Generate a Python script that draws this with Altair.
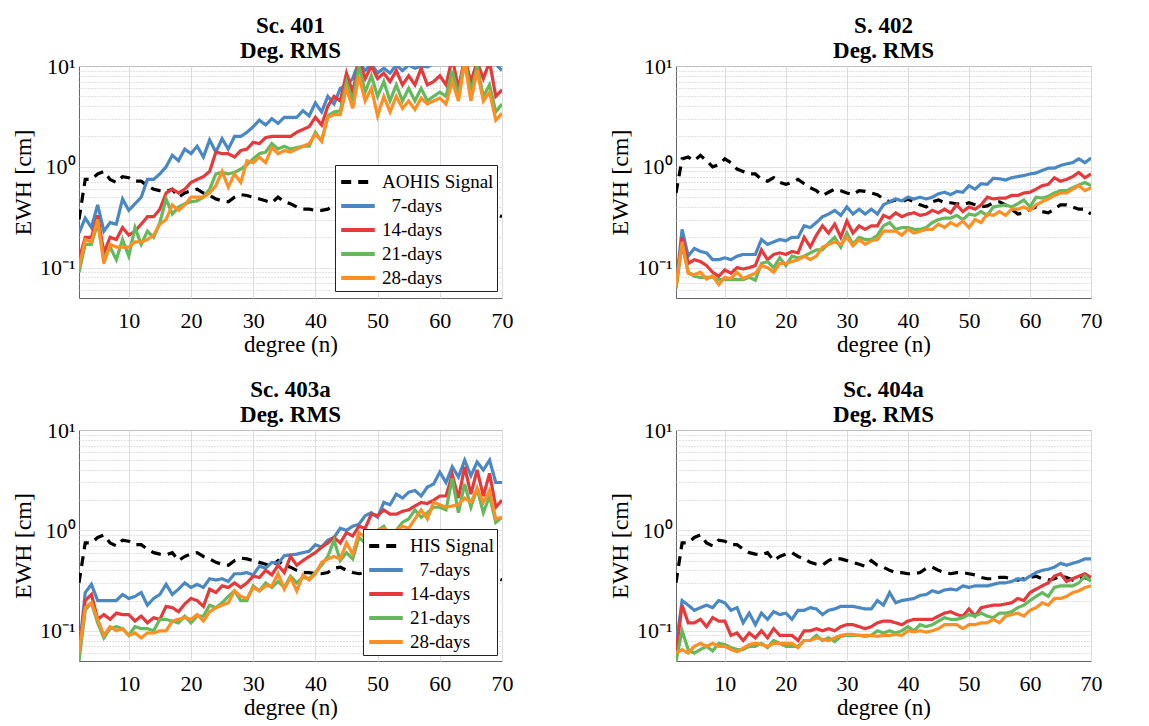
import altair as alt
import pandas as pd

FONT = "Liberation Serif"

degrees = list(range(2, 71))

# Signal (same curve in Sc. 401, 403a, 404a)
signal_his = [
    0.30, 0.75, 0.75, 0.85, 0.90, 0.75, 0.70, 0.80, 0.78, 0.72,
    0.72, 0.65, 0.60, 0.58, 0.57, 0.60, 0.50, 0.55, 0.58, 0.60,
    0.55, 0.52, 0.48, 0.46, 0.45, 0.50, 0.53, 0.52, 0.50, 0.48,
    0.46, 0.44, 0.50, 0.45, 0.43, 0.40, 0.38, 0.38, 0.37, 0.37,
    0.38, 0.42, 0.43, 0.40, 0.38, 0.37, 0.38, 0.38, 0.37, 0.36,
    0.34, 0.33, 0.33, 0.34, 0.34, 0.33, 0.32, 0.33, 0.34, 0.35,
    0.33, 0.32, 0.33, 0.35, 0.34, 0.32, 0.33, 0.34, 0.32]
signal_402 = [
    0.55, 1.20, 1.25, 1.15, 1.30, 1.15, 1.00, 1.05, 1.20, 1.10,
    0.95, 0.90, 0.85, 0.85, 0.75, 0.72, 0.78, 0.70, 0.67, 0.70,
    0.75, 0.68, 0.62, 0.58, 0.52, 0.56, 0.60, 0.58, 0.55, 0.53,
    0.58, 0.57, 0.55, 0.53, 0.48, 0.45, 0.47, 0.45, 0.48, 0.45,
    0.42, 0.40, 0.45, 0.47, 0.44, 0.44, 0.43, 0.42, 0.44, 0.42,
    0.40, 0.41, 0.44, 0.45, 0.42, 0.38, 0.34, 0.35, 0.38, 0.40,
    0.36, 0.35, 0.38, 0.42, 0.42, 0.40, 0.38, 0.38, 0.34]

# Sc. 401
p401_d07 = [
    0.22, 0.31, 0.25, 0.42, 0.23, 0.28, 0.27, 0.48, 0.37, 0.43,
    0.50, 0.75, 0.75, 0.85, 1.00, 1.30, 1.15, 1.50, 1.35, 1.60,
    1.25, 1.85, 1.40, 1.90, 1.50, 2.00, 2.00, 2.20, 2.50, 2.90,
    2.60, 3.00, 2.70, 3.10, 3.10, 3.10, 3.60, 3.20, 4.30, 3.50,
    5.00, 4.20, 6.00, 6.50, 7.50, 11.0, 9.00, 10.5, 8.50, 9.50,
    8.50, 10.2, 9.00, 10.2, 9.50, 10.0, 9.80, 10.5, 11.5, 11.0,
    14.0, 11.5, 14.0, 12.0, 13.0, 11.5, 12.0, 10.5, 9.00]
p401_d14 = [
    0.12, 0.20, 0.20, 0.33, 0.14, 0.20, 0.19, 0.25, 0.21, 0.23,
    0.27, 0.32, 0.32, 0.38, 0.55, 0.60, 0.55, 0.60, 0.70, 0.75,
    0.80, 0.90, 1.40, 1.35, 1.35, 1.25, 1.45, 1.50, 1.75, 1.70,
    1.95, 2.00, 2.00, 2.00, 2.00, 2.20, 2.35, 2.50, 3.10, 2.60,
    4.00, 5.00, 4.50, 8.50, 5.50, 11.0, 7.50, 10.0, 7.50, 8.50,
    7.00, 9.00, 6.50, 8.00, 6.50, 9.50, 6.50, 7.00, 8.00, 6.50,
    12.0, 6.00, 12.0, 7.00, 11.0, 7.50, 11.0, 5.00, 5.80]
p401_d21 = [
    0.09, 0.17, 0.17, 0.28, 0.12, 0.16, 0.12, 0.19, 0.13, 0.25,
    0.17, 0.23, 0.20, 0.28, 0.48, 0.34, 0.40, 0.43, 0.45, 0.46,
    0.50, 0.60, 0.85, 0.88, 0.85, 0.88, 0.95, 1.05, 1.20, 1.35,
    1.40, 1.70, 1.50, 1.60, 1.50, 1.55, 1.60, 1.60, 2.20, 1.80,
    3.20, 3.50, 3.60, 7.00, 4.50, 10.0, 5.50, 8.00, 5.00, 7.00,
    4.50, 6.50, 4.50, 6.00, 4.50, 6.00, 4.50, 5.00, 5.50, 5.00,
    9.00, 5.00, 12.0, 5.50, 10.0, 5.00, 6.50, 3.50, 4.20]
p401_d28 = [
    0.10, 0.19, 0.18, 0.30, 0.11, 0.17, 0.16, 0.16, 0.16, 0.18,
    0.18, 0.19, 0.21, 0.27, 0.30, 0.42, 0.37, 0.42, 0.50, 0.50,
    0.50, 0.55, 0.65, 0.90, 0.63, 0.85, 0.70, 1.15, 1.10, 1.25,
    1.10, 1.55, 1.35, 1.45, 1.40, 1.50, 1.60, 1.70, 2.10, 1.80,
    3.10, 3.30, 3.30, 6.00, 3.80, 8.00, 4.50, 6.00, 3.20, 5.00,
    3.50, 5.00, 3.80, 4.50, 3.70, 4.80, 4.20, 4.50, 4.80, 4.20,
    7.00, 4.50, 11.0, 4.50, 9.00, 4.50, 5.50, 2.90, 3.40]

# S. 402
p402_d07 = [
    0.065, 0.24, 0.13, 0.155, 0.145, 0.14, 0.12, 0.12, 0.125, 0.12,
    0.13, 0.135, 0.135, 0.135, 0.19, 0.17, 0.18, 0.19, 0.185, 0.20,
    0.20, 0.26, 0.25, 0.28, 0.32, 0.34, 0.37, 0.33, 0.40, 0.34,
    0.38, 0.34, 0.38, 0.34, 0.42, 0.45, 0.48, 0.46, 0.50, 0.48,
    0.50, 0.48, 0.50, 0.54, 0.56, 0.53, 0.57, 0.56, 0.65, 0.60,
    0.68, 0.67, 0.77, 0.76, 0.74, 0.78, 0.80, 0.82, 0.85, 0.87,
    0.92, 0.97, 0.97, 1.03, 1.07, 1.10, 1.20, 1.10, 1.22]
p402_d14 = [
    0.065, 0.20, 0.11, 0.12, 0.115, 0.105, 0.09, 0.082, 0.095, 0.088,
    0.10, 0.097, 0.10, 0.105, 0.15, 0.12, 0.135, 0.14, 0.135, 0.145,
    0.14, 0.20, 0.16, 0.21, 0.26, 0.22, 0.27, 0.20, 0.29, 0.22,
    0.26, 0.24, 0.26, 0.26, 0.33, 0.31, 0.35, 0.32, 0.34, 0.35,
    0.33, 0.34, 0.37, 0.35, 0.38, 0.35, 0.42, 0.36, 0.40, 0.38,
    0.42, 0.50, 0.48, 0.49, 0.49, 0.52, 0.52, 0.55, 0.56, 0.60,
    0.65, 0.67, 0.78, 0.72, 0.75, 0.80, 0.88, 0.78, 0.85]
p402_d21 = [
    0.062, 0.17, 0.09, 0.082, 0.08, 0.08, 0.08, 0.076, 0.076, 0.076,
    0.076, 0.076, 0.08, 0.075, 0.11, 0.115, 0.10, 0.125, 0.105, 0.13,
    0.125, 0.13, 0.14, 0.15, 0.15, 0.175, 0.20, 0.16, 0.22, 0.17,
    0.20, 0.19, 0.19, 0.21, 0.26, 0.28, 0.24, 0.25, 0.25, 0.24,
    0.24, 0.25, 0.28, 0.30, 0.31, 0.31, 0.33, 0.30, 0.34, 0.33,
    0.36, 0.33, 0.40, 0.41, 0.42, 0.40, 0.43, 0.47, 0.40, 0.50,
    0.49, 0.51, 0.55, 0.58, 0.58, 0.62, 0.66, 0.70, 0.65]
p402_d28 = [
    0.065, 0.18, 0.088, 0.085, 0.09, 0.077, 0.083, 0.068, 0.08, 0.078,
    0.09, 0.078, 0.083, 0.088, 0.105, 0.10, 0.09, 0.11, 0.11, 0.115,
    0.12, 0.13, 0.12, 0.13, 0.16, 0.17, 0.18, 0.17, 0.20, 0.165,
    0.19, 0.17, 0.185, 0.19, 0.23, 0.23, 0.23, 0.21, 0.24, 0.22,
    0.23, 0.24, 0.24, 0.27, 0.25, 0.28, 0.26, 0.29, 0.25, 0.30,
    0.28, 0.34, 0.33, 0.36, 0.33, 0.38, 0.38, 0.40, 0.37, 0.42,
    0.45, 0.48, 0.52, 0.55, 0.55, 0.60, 0.65, 0.58, 0.62]

# Sc. 403a
p403_d07 = [
    0.06, 0.24, 0.29, 0.20, 0.20, 0.20, 0.20, 0.23, 0.21, 0.22,
    0.24, 0.18, 0.21, 0.23, 0.29, 0.23, 0.26, 0.30, 0.27, 0.29,
    0.27, 0.33, 0.32, 0.33, 0.31, 0.37, 0.37, 0.38, 0.36, 0.44,
    0.42, 0.48, 0.47, 0.56, 0.57, 0.58, 0.60, 0.62, 0.72, 0.68,
    0.80, 0.85, 1.05, 1.00, 1.10, 1.15, 1.40, 1.50, 1.35, 1.90,
    1.80, 2.30, 2.10, 2.40, 2.50, 2.20, 2.70, 2.90, 3.80, 3.00,
    4.30, 3.40, 5.00, 3.50, 4.80, 4.00, 5.00, 3.00, 3.00]
p403_d14 = [
    0.06, 0.20, 0.23, 0.13, 0.145, 0.13, 0.15, 0.145, 0.145, 0.125,
    0.14, 0.12, 0.135, 0.13, 0.175, 0.17, 0.155, 0.185, 0.21, 0.20,
    0.175, 0.26, 0.24, 0.28, 0.27, 0.30, 0.27, 0.30, 0.35, 0.34,
    0.40, 0.36, 0.45, 0.38, 0.55, 0.45, 0.50, 0.55, 0.60, 0.68,
    0.75, 0.85, 0.75, 0.95, 0.88, 1.10, 1.05, 1.45, 1.40, 1.60,
    1.45, 1.45, 1.55, 1.60, 1.75, 1.90, 1.85, 2.00, 2.20, 2.20,
    3.60, 2.10, 4.30, 2.30, 4.00, 2.20, 3.70, 1.70, 2.00]
p403_d21 = [
    0.05, 0.16, 0.19, 0.12, 0.085, 0.105, 0.11, 0.105, 0.09, 0.11,
    0.105, 0.105, 0.10, 0.13, 0.13, 0.125, 0.12, 0.14, 0.12, 0.14,
    0.14, 0.18, 0.17, 0.19, 0.22, 0.25, 0.20, 0.20, 0.28, 0.25,
    0.30, 0.27, 0.31, 0.27, 0.35, 0.30, 0.34, 0.33, 0.38, 0.45,
    0.55, 0.80, 0.50, 0.60, 0.52, 0.85, 0.75, 0.90, 1.00, 1.10,
    0.85, 1.00, 1.20, 1.30, 1.60, 1.35, 1.50, 1.70, 1.70, 1.60,
    3.30, 1.50, 2.90, 1.70, 2.60, 1.50, 2.20, 1.20, 1.35]
p403_d28 = [
    0.06, 0.17, 0.19, 0.13, 0.09, 0.11, 0.10, 0.105, 0.09, 0.095,
    0.085, 0.095, 0.095, 0.10, 0.10, 0.125, 0.13, 0.135, 0.13, 0.145,
    0.125, 0.155, 0.17, 0.18, 0.19, 0.25, 0.22, 0.21, 0.27, 0.25,
    0.28, 0.28, 0.37, 0.26, 0.34, 0.25, 0.36, 0.32, 0.37, 0.48,
    0.52, 0.55, 0.52, 0.75, 0.58, 0.95, 0.85, 0.90, 1.00, 1.05,
    0.95, 1.00, 1.10, 1.05, 1.30, 1.60, 1.30, 1.90, 1.80, 1.70,
    1.75, 1.80, 2.10, 1.90, 2.60, 1.90, 2.50, 1.30, 1.35]

# Sc. 404a
p404_d07 = [
    0.07, 0.20, 0.18, 0.16, 0.17, 0.18, 0.17, 0.20, 0.19, 0.16,
    0.17, 0.12, 0.15, 0.115, 0.15, 0.13, 0.155, 0.145, 0.15, 0.13,
    0.16, 0.16, 0.17, 0.165, 0.145, 0.16, 0.165, 0.175, 0.175, 0.175,
    0.17, 0.165, 0.165, 0.20, 0.18, 0.24, 0.19, 0.20, 0.205, 0.21,
    0.225, 0.23, 0.25, 0.24, 0.255, 0.26, 0.255, 0.28, 0.27, 0.28,
    0.28, 0.28, 0.29, 0.30, 0.30, 0.31, 0.33, 0.32, 0.35, 0.38,
    0.40, 0.41, 0.43, 0.47, 0.45, 0.47, 0.49, 0.52, 0.52]
p404_d14 = [
    0.06, 0.18, 0.12, 0.12, 0.13, 0.11, 0.135, 0.125, 0.125, 0.09,
    0.095, 0.08, 0.095, 0.085, 0.10, 0.085, 0.105, 0.09, 0.09, 0.09,
    0.08, 0.10, 0.10, 0.105, 0.10, 0.105, 0.10, 0.11, 0.115, 0.115,
    0.11, 0.105, 0.11, 0.12, 0.125, 0.125, 0.12, 0.115, 0.125, 0.13,
    0.13, 0.13, 0.13, 0.14, 0.15, 0.155, 0.145, 0.14, 0.165, 0.14,
    0.17, 0.175, 0.18, 0.18, 0.185, 0.19, 0.21, 0.20, 0.24, 0.26,
    0.28, 0.30, 0.35, 0.37, 0.31, 0.33, 0.35, 0.37, 0.34]
p404_d21 = [
    0.05, 0.10, 0.065, 0.06, 0.065, 0.07, 0.063, 0.075, 0.073, 0.068,
    0.065, 0.065, 0.07, 0.07, 0.075, 0.068, 0.08, 0.075, 0.07, 0.07,
    0.07, 0.08, 0.08, 0.09, 0.08, 0.085, 0.078, 0.088, 0.09, 0.09,
    0.09, 0.088, 0.09, 0.10, 0.095, 0.10, 0.095, 0.10, 0.11, 0.10,
    0.115, 0.11, 0.115, 0.125, 0.135, 0.13, 0.13, 0.135, 0.145, 0.14,
    0.15, 0.14, 0.135, 0.15, 0.15, 0.155, 0.17, 0.18, 0.20, 0.22,
    0.24, 0.22, 0.27, 0.28, 0.28, 0.28, 0.30, 0.35, 0.31]
p404_d28 = [
    0.06, 0.065, 0.06, 0.07, 0.075, 0.07, 0.075, 0.07, 0.07, 0.065,
    0.062, 0.067, 0.073, 0.075, 0.073, 0.07, 0.075, 0.075, 0.075, 0.075,
    0.068, 0.08, 0.08, 0.085, 0.082, 0.08, 0.085, 0.09, 0.092, 0.092,
    0.09, 0.09, 0.09, 0.088, 0.09, 0.09, 0.092, 0.09, 0.10, 0.098,
    0.10, 0.097, 0.10, 0.105, 0.115, 0.115, 0.115, 0.105, 0.115, 0.115,
    0.12, 0.12, 0.13, 0.12, 0.14, 0.145, 0.15, 0.14, 0.16, 0.17,
    0.19, 0.18, 0.21, 0.21, 0.22, 0.24, 0.25, 0.27, 0.28]

# "\u200b\u2007" keeps a digit-wide lead before "7-days", as in the reference legend
series_labels = ["\u200b\u20077-days", "14-days", "21-days", "28-days"]
line_colors = ["#000000", "#4a88c4", "#e5393c", "#63b95b", "#fd8f24"]
line_dashes = [[10, 7], [1, 0], [1, 0], [1, 0], [1, 0]]
x_ticks = [10, 20, 30, 40, 50, 60, 70]
y_ticks = [0.06, 0.07, 0.08, 0.09, 0.1, 0.2, 0.3, 0.4, 0.5, 0.6, 0.7, 0.8, 0.9,
           1, 2, 3, 4, 5, 6, 7, 8, 9, 10]

MAJOR = "abs(log(datum.value)/LN10 - round(log(datum.value)/LN10)) < 0.001"
Y_LABEL = ("abs(datum.value - 10) < 1e-6 ? '10\u00b9' : abs(datum.value - 1) < 1e-6 ? '10\u2070' : "
           "abs(datum.value - 0.1) < 1e-6 ? '10\u207b\u00b9' : ''")


def panel(title, signal_name, sig, d07, d14, d21, d28, width, height, legend_xy=None):
    names = [signal_name] + series_labels
    rows = []
    for name, vals in zip(names, [sig, d07, d14, d21, d28]):
        for n, v in zip(degrees, vals):
            rows.append({"n": n, "v": v, "s": name})
    df = pd.DataFrame(rows)
    if legend_xy is not None:
        leg = alt.Legend(
            title=None, orient="none", legendX=legend_xy[0], legendY=legend_xy[1],
            labelFont=FONT, labelFontSize=19, labelColor="black", labelLimit=300,
            symbolType="M-1.4,0L1.4,0", symbolStrokeWidth=4, symbolSize=576,
            strokeColor="#222222", fillColor="white", padding=3, rowPadding=0,
            symbolOffset=6, labelOffset=10)
    else:
        leg = None
    xaxis = alt.Axis(
        values=x_ticks, title="degree (n)", titleFont=FONT, titleFontSize=23,
        titleFontWeight="normal", titleColor="black", titlePadding=2,
        labelFont=FONT, labelFontSize=22, labelColor="black", labelPadding=12,
        labelFlush=False, ticks=False, domain=False,
        grid=True, gridColor="#dddddd", gridWidth=1)
    yaxis = alt.Axis(
        values=y_ticks, labelExpr=Y_LABEL, title="EWH [cm]", titleFont=FONT,
        titleFontSize=24, titleFontWeight="normal", titleColor="black", titlePadding=4,
        labelFont=FONT, labelFontSize=22, labelColor="black", labelPadding=4,
        labelFlush=False, labelOverlap=False, ticks=False, domain=False, grid=True,
        gridDash={"condition": {"test": MAJOR, "value": [1, 0]}, "value": [1, 2]},
        gridColor={"condition": {"test": MAJOR, "value": "#dddddd"}, "value": "#c4c4c4"},
        gridWidth=1)
    return alt.Chart(df).mark_line(clip=True, strokeWidth=3.2).encode(
        x=alt.X("n:Q", scale=alt.Scale(domain=[2, 70], nice=False, zero=False), axis=xaxis),
        y=alt.Y("v:Q", scale=alt.Scale(type="log", domain=[0.05, 10], nice=False), axis=yaxis),
        color=alt.Color("s:N", scale=alt.Scale(domain=names, range=line_colors),
                        sort=names, legend=leg),
        strokeDash=alt.StrokeDash("s:N", scale=alt.Scale(domain=names, range=line_dashes),
                                  sort=names, legend=leg),
        detail="s:N",
    ).properties(
        width=width, height=height,
        title=alt.TitleParams(text=[title, "Deg. RMS"], font=FONT, fontSize=23,
                              fontWeight="bold", color="black", anchor="middle",
                              frame="group", offset=-8, lineHeight=25),
    )


c1 = panel("Sc. 401", "AOHIS Signal", signal_his, p401_d07, p401_d14, p401_d21, p401_d28,
           423, 232, legend_xy=(256, 99))
c2 = panel("S. 402", "Signal", signal_402, p402_d07, p402_d14, p402_d21, p402_d28, 415, 232)
c3 = panel("Sc. 403a", "HIS Signal", signal_his, p403_d07, p403_d14, p403_d21, p403_d28,
           423, 231, legend_xy=(284, 99))
c4 = panel("Sc. 404a", "Signal", signal_his, p404_d07, p404_d14, p404_d21, p404_d28, 415, 231)

row1 = alt.hconcat(c1, c2, spacing=93).resolve_scale(color="independent", strokeDash="independent").resolve_legend(color="independent", strokeDash="independent")
row2 = alt.hconcat(c3, c4, spacing=93).resolve_scale(color="independent", strokeDash="independent").resolve_legend(color="independent", strokeDash="independent")

chart = alt.vconcat(row1, row2, spacing=21).resolve_scale(
    color="independent", strokeDash="independent"
).resolve_legend(color="independent", strokeDash="independent").properties(
    padding={"left": 10, "top": 14, "right": 5, "bottom": 5},
    background="white",
).configure_view(stroke="#666666", strokeWidth=1)

chart.save("out.html", embed_options={"renderer": "svg", "actions": False})
